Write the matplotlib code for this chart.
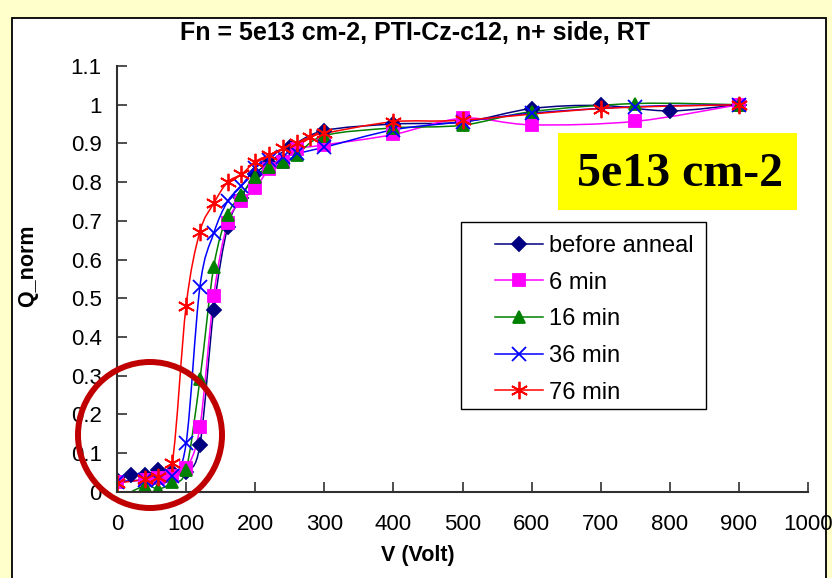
import numpy as np
import matplotlib
matplotlib.use("Agg")
import matplotlib.pyplot as plt
from matplotlib.path import Path
from matplotlib.patches import PathPatch, Rectangle, Ellipse
from matplotlib.lines import Line2D

plt.rcParams['font.family'] = ['Liberation Sans', 'DejaVu Sans']

# values
before_v = [0, 20, 40, 60, 80, 100, 120, 140, 160, 180, 200, 220, 250, 300, 400, 500, 600, 700, 800, 900]
before_q = [0.03, 0.042, 0.043, 0.057, 0.05, 0.052, 0.12, 0.47, 0.683, 0.76, 0.82, 0.85, 0.89, 0.933, 0.95, 0.955, 0.99, 0.998, 0.984, 1.0]

m6_v = [0, 40, 60, 80, 100, 120, 140, 160, 180, 200, 220, 240, 260, 300, 400, 500, 600, 750, 900]
m6_q = [0.026, 0.03, 0.035, 0.04, 0.06, 0.168, 0.506, 0.694, 0.75, 0.784, 0.833, 0.853, 0.885, 0.896, 0.923, 0.965, 0.948, 0.957, 1.0]

m16_v = [0, 40, 60, 80, 100, 120, 140, 160, 180, 200, 220, 240, 260, 300, 400, 500, 600, 750, 900]
m16_q = [-0.02, 0.015, 0.007, 0.024, 0.057, 0.29, 0.581, 0.715, 0.767, 0.814, 0.84, 0.853, 0.87, 0.92, 0.94, 0.947, 0.982, 1.003, 1.0]

m36_v = [0, 40, 60, 80, 100, 120, 140, 160, 180, 200, 220, 240, 260, 300, 400, 500, 600, 750, 900]
m36_q = [0.026, 0.03, 0.03, 0.04, 0.125, 0.53, 0.668, 0.75, 0.79, 0.836, 0.857, 0.865, 0.874, 0.89, 0.935, 0.956, 0.978, 0.995, 1.0]

m76_v = [0, 40, 60, 80, 100, 120, 140, 160, 180, 200, 220, 240, 260, 280, 300, 400, 500, 700, 900]
m76_q = [0.022, 0.032, 0.037, 0.075, 0.48, 0.672, 0.745, 0.80, 0.82, 0.853, 0.87, 0.887, 0.90, 0.917, 0.926, 0.956, 0.96, 0.99, 1.0]

labels = ['before anneal', '6 min', '16 min', '36 min', '76 min']
colors = ['#000080', '#FF00FF', '#008000', '#0000FF', '#FF0000']
markers = ['D', 's', '^', 'x', (6, 2, 0)]
msizes = [7.5, 8, 9, 9.5, 12.5]

xticks = list(range(0, 1001, 100))
yticks = [0, 0.1, 0.2, 0.3, 0.4, 0.5, 0.6, 0.7, 0.8, 0.9, 1.0, 1.1]
ytick_labels = ['0', '0.1', '0.2', '0.3', '0.4', '0.5', '0.6', '0.7', '0.8', '0.9', '1', '1.1']


def smooth_path(x, y):
    # excel style smoothed line: bezier through the data points
    pts = np.column_stack([np.asarray(x, float), np.asarray(y, float)])
    n = len(pts)
    verts = [pts[0]]
    codes = [Path.MOVETO]
    for i in range(n - 1):
        p0 = pts[max(i - 1, 0)]
        p1 = pts[i]
        p2 = pts[i + 1]
        p3 = pts[min(i + 2, n - 1)]
        verts += [p1 + (p2 - p0) / 6, p2 - (p3 - p1) / 6, p2]
        codes += [Path.CURVE4] * 3
    return Path(verts, codes)


W, H = 832, 578
fig = plt.figure(figsize=(W / 100, H / 100), dpi=100, facecolor='#FFFFCC')

def fx(px):
    return px / W

def fy(py):
    return 1 - py / H

# white slide panel with black frame
fig.patches.append(Rectangle((fx(12), -0.05), fx(826) - fx(12), fy(18) + 0.05,
                             transform=fig.transFigure, facecolor='white',
                             edgecolor='black', lw=1.3, zorder=-5))

ax = fig.add_axes([fx(117), fy(491.7), fx(808) - fx(117), fy(66) - fy(491.7)])
ax.set_facecolor('none')

series = [(before_v, before_q), (m6_v, m6_q), (m16_v, m16_q), (m36_v, m36_q), (m76_v, m76_q)]
handles = []
for (v, q), lab, c, mk, ms in zip(series, labels, colors, markers, msizes):
    ax.add_patch(PathPatch(smooth_path(v, q), fill=False, edgecolor=c, lw=1.1))
    ax.plot(v, q, ls='none', marker=mk, ms=ms, color=c, mec=c, mew=1.3)
    handles.append(Line2D([], [], color=c, lw=1.1, marker=mk, ms=ms, mec=c, mew=1.3))

ax.set_xlim(0, 1000)
ax.set_ylim(0, 1.1)
ax.set_xticks(xticks)
ax.set_yticks(yticks)
ax.set_yticklabels(ytick_labels)
for s in ['top', 'right']:
    ax.spines[s].set_visible(False)
for s in ['left', 'bottom']:
    ax.spines[s].set_color('#303030')
    ax.spines[s].set_linewidth(1.5)
ax.tick_params(direction='in', length=7, width=1.2, color='#303030', labelsize=16)
ax.tick_params(axis='y', pad=11)
ax.tick_params(axis='x', pad=16)

fig.text(fx(415), fy(33), 'Fn = 5e13 cm-2, PTI-Cz-c12, n+ side, RT',
         ha='center', va='center', fontsize=18, weight='bold')
fig.text(fx(28), fy(266), 'Q_norm', rotation=90, ha='center', va='center',
         fontsize=15.5, weight='bold')
fig.text(fx(418), fy(555), 'V (Volt)', ha='center', va='center',
         fontsize=15.5, weight='bold')

# legend
fig.patches.append(Rectangle((fx(461), fy(409)), fx(706) - fx(461), fy(222) - fy(409),
                             transform=fig.transFigure, facecolor='white',
                             edgecolor='black', lw=1.0, zorder=5))
leg = fig.legend(handles, labels, loc='upper left', bbox_to_anchor=(fx(495), fy(235)),
                 frameon=False, fontsize=17, borderpad=0, borderaxespad=0,
                 handlelength=2.05, handletextpad=0.25, labelspacing=0.62)
leg.set_zorder(6)

# yellow label box
fig.patches.append(Rectangle((fx(558), fy(210)), fx(797) - fx(558), fy(133) - fy(210),
                             transform=fig.transFigure, facecolor='#FFFF00',
                             edgecolor='none', zorder=5))
fig.text(fx(680), fy(174), '5e13 cm-2', ha='center', va='center', fontsize=34.5,
         weight='bold', family=['Liberation Serif', 'DejaVu Serif'], zorder=6)

# red circle around the low voltage region
fig.add_artist(Ellipse((fx(150), fy(435)), 144 / W, 146 / H, transform=fig.transFigure,
                       fill=False, edgecolor='#C00000', lw=4.3, zorder=10))

fig.savefig('out.png', dpi=100, facecolor=fig.get_facecolor())
